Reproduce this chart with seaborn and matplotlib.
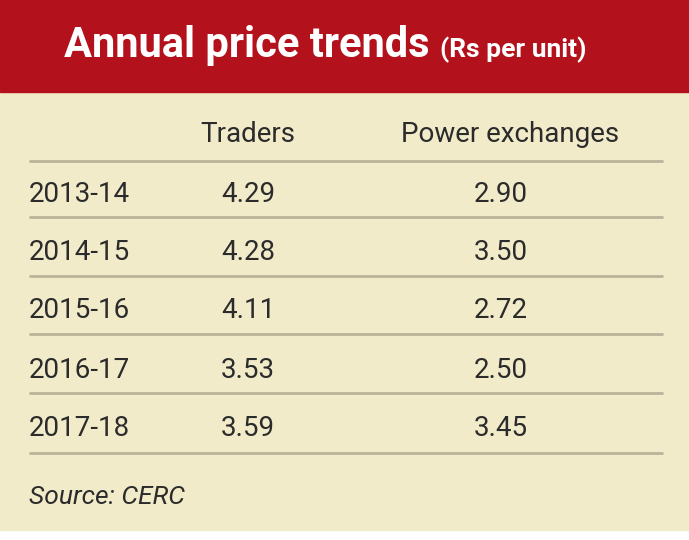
import matplotlib
matplotlib.use('Agg')
import matplotlib.pyplot as plt
import seaborn as sns
from matplotlib.patches import Rectangle

# table data
years = ['2013-14', '2014-15', '2015-16', '2016-17', '2017-18']
traders = [4.29, 4.28, 4.11, 3.53, 3.59]
power_exchanges = [2.90, 3.50, 2.72, 2.50, 3.45]
columns = ['Traders', 'Power exchanges']
title = 'Annual price trends'
subtitle = '(Rs per unit)'
source = 'Source: CERC'

sns.set_theme(style='white')
plt.rcParams['font.family'] = ['Roboto', 'DejaVu Sans']

RED = '#b3121c'
BEIGE = '#f1ebca'
LINE = '#b9b49a'
TEXT = '#2b2b2b'

fig = plt.figure(figsize=(6.89, 5.4), dpi=100)
fig.patch.set_facecolor('white')
ax = fig.add_axes([0, 0, 1, 1])
ax.set_xlim(0, 689)
ax.set_ylim(540, 0)
ax.axis('off')

ax.add_patch(Rectangle((0, 0), 689, 530, color=BEIGE, zorder=0))
ax.add_patch(Rectangle((0, 0), 689, 92, color=RED, zorder=1))

t = ax.text(64, 46, title, color='white', fontsize=30, fontweight='bold',
            va='center', ha='left')
fig.canvas.draw()
bb = t.get_window_extent().transformed(ax.transData.inverted())
ax.text(bb.x1 + 10, 50, subtitle, color='white', fontsize=19,
        fontweight='bold', va='center', ha='left')

# header
ax.text(248, 135, columns[0], fontsize=20, color=TEXT, ha='center', va='center')
ax.text(510, 135, columns[1], fontsize=20, color=TEXT, ha='center', va='center')

row_y = [194, 252, 311, 370, 428]
line_y = [161, 217, 276, 334, 393, 453]
ax.hlines(line_y, 29, 663, color=LINE, lw=2)

for y, yr, tr, pe in zip(row_y, years, traders, power_exchanges):
    ax.text(29, y, yr, fontsize=20, color=TEXT, ha='left', va='center')
    ax.text(248, y, f'{tr:.2f}', fontsize=20, color=TEXT, ha='center', va='center')
    ax.text(501, y, f'{pe:.2f}', fontsize=20, color=TEXT, ha='center', va='center')

ax.text(29, 497, source, fontsize=19, color=TEXT, style='italic',
        ha='left', va='center')

fig.savefig('out.png', dpi=100)
